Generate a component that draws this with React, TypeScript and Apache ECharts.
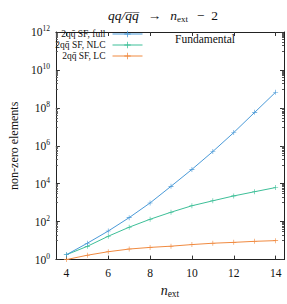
import React, { useEffect, useRef } from "react";
import * as echarts from "echarts";

const nExt = [4, 5, 6, 7, 8, 9, 10, 11, 12, 13, 14];
const fullSF = [1.8, 7.3, 32, 163, 970, 7300, 57000, 5.0e5, 5.0e6, 5.8e7, 6.7e8];
const nlcSF = [1.8, 5, 17, 51, 134, 315, 690, 1260, 2280, 3800, 6300];
const lcSF = [1, 1.7, 2.6, 3.6, 4.4, 5.1, 6.2, 7.3, 8.1, 9.2, 10];
const xTicks = [4, 6, 8, 10, 12, 14];
const yTicks = [1, 1e2, 1e4, 1e6, 1e8, 1e10, 1e12];
const yMinorTicks = [
  10, 20, 30, 40, 50, 60, 70, 80, 90,
  1e3, 2e3, 3e3, 4e3, 5e3, 6e3, 7e3, 8e3, 9e3,
  1e5, 2e5, 3e5, 4e5, 5e5, 6e5, 7e5, 8e5, 9e5,
  1e7, 2e7, 3e7, 4e7, 5e7, 6e7, 7e7, 8e7, 9e7,
  1e9, 2e9, 3e9, 4e9, 5e9, 6e9, 7e9, 8e9, 9e9,
  1e11, 2e11, 3e11, 4e11, 5e11, 6e11, 7e11, 8e11, 9e11,
];
const seriesNames = ["2qq\u0304 SF, full", "2qq\u0304 SF, NLC", "2qq\u0304 SF, LC"];
const colors = ["#4a9ad8", "#3dbf98", "#f08a40"];

const FONT = "'Liberation Serif', 'DejaVu Serif', serif";
const CROSS = "path://M4.4,0H5.6V4.4H10V5.6H5.6V10H4.4V5.6H0V4.4H4.4Z";

export default function App() {
  const ref = useRef<HTMLDivElement>(null);
  useEffect(() => {
    if (!ref.current) return;
    const chart = echarts.init(ref.current, undefined, { renderer: "svg" });
    const axisLine = { show: true, lineStyle: { color: "#222", width: 1 } };
    const xBase = {
      type: "value" as const,
      min: 3.5,
      max: 14.4,
      splitLine: { show: false },
      axisLine,
      axisTick: { inside: true, length: 4, customValues: xTicks, lineStyle: { color: "#333" } },
    };
    const yBase = {
      type: "log" as const,
      logBase: 10,
      min: 1,
      max: 1e12,
      splitLine: { show: false },
      axisLine,
      axisTick: { inside: true, length: 4, customValues: yTicks, lineStyle: { color: "#333" } },
    };
    const yMinor = {
      type: "log" as const,
      logBase: 10,
      min: 1,
      max: 1e12,
      splitLine: { show: false },
      axisLine: { show: false },
      axisLabel: { show: false },
      axisTick: { inside: true, length: 2, customValues: yMinorTicks, lineStyle: { color: "#555" } },
    };
    const data = [fullSF, nlcSF, lcSF];
    const legends = seriesNames.map((name, i) => ({
      orient: "horizontal",
      right: 144,
      top: 29 + i * 11,
      align: "right",
      itemWidth: 30,
      itemHeight: 8,
      padding: 0,
      data: [name],
      lineStyle: { width: 1 },
      textStyle: { fontFamily: FONT, fontSize: 9.5, color: "#111", padding: [0, 2, 0, 0] },
    }));
    chart.setOption({
      animation: false,
      textStyle: { fontFamily: FONT },
      title: {
        text: "{i|qq/q\u0305q\u0305}  {n|\u2192}  {i|n}{s|ext}  {n|\u2212  2}",
        left: 158,
        textAlign: "center",
        top: 1,
        textStyle: {
          fontWeight: "normal",
          fontFamily: FONT,
          rich: {
            i: { fontFamily: FONT, fontStyle: "italic", fontWeight: "normal", fontSize: 13.5, color: "#111" },
            n: { fontFamily: FONT, fontWeight: "normal", fontSize: 13.5, color: "#111" },
            s: { fontFamily: FONT, fontWeight: "normal", fontSize: 9, color: "#111", padding: [7, 0, 0, 0] },
          },
        },
      },
      grid: { left: 40, top: 32, width: 244, height: 237 },
      legend: legends,
      xAxis: [
        {
          ...xBase,
          position: "bottom",
          name: "{i|n}{s|ext}",
          nameLocation: "middle",
          nameGap: 22,
          nameTextStyle: {
            fontFamily: FONT,
            rich: {
              i: { fontFamily: FONT, fontStyle: "italic", fontSize: 14, color: "#111" },
              s: { fontFamily: FONT, fontSize: 9.5, color: "#111", padding: [7, 0, 0, 0] },
            },
          },
          axisLabel: { customValues: xTicks, fontFamily: FONT, fontSize: 11.5, color: "#111", margin: 7 },
        },
        { ...xBase, position: "top", axisLabel: { show: false } },
      ],
      yAxis: [
        {
          ...yBase,
          position: "left",
          name: "non-zero elements",
          nameLocation: "middle",
          nameGap: 26,
          nameTextStyle: { fontFamily: FONT, fontSize: 12, color: "#111", padding: [0, 0, 0, 0] },
          axisLabel: {
            customValues: yTicks,
            margin: 6,
            fontFamily: FONT,
            formatter: (v: number) => `{b|10}{s|${Math.round(Math.log10(v))}}`,
            rich: {
              b: { fontFamily: FONT, fontSize: 11.5, color: "#111" },
              s: { fontFamily: FONT, fontSize: 7.5, color: "#111", padding: [0, 0, 7, 0] },
            },
          },
        },
        { ...yBase, position: "right", axisLabel: { show: false } },
        { ...yMinor, position: "left" },
        { ...yMinor, position: "right" },
      ],
      graphic: [
        {
          type: "text",
          left: 175,
          top: 33,
          style: { text: "Fundamental", fontFamily: FONT, fontSize: 11.5, fill: "#111" },
        },
      ],
      series: seriesNames.map((name, i) => ({
        name,
        type: "line",
        xAxisIndex: 0,
        yAxisIndex: 0,
        data: nExt.map((x, j) => [x, data[i][j]]),
        symbol: CROSS,
        symbolSize: 5,
        showSymbol: true,
        color: colors[i],
        itemStyle: { color: colors[i] },
        lineStyle: { color: colors[i], width: 1 },
        z: 10 - i,
      })),
    });
    return () => chart.dispose();
  }, []);
  return (
    <div
      ref={ref}
      style={{ position: "fixed", left: 0, top: 0, width: 287, height: 304, background: "#fff" }}
    />
  );
}
